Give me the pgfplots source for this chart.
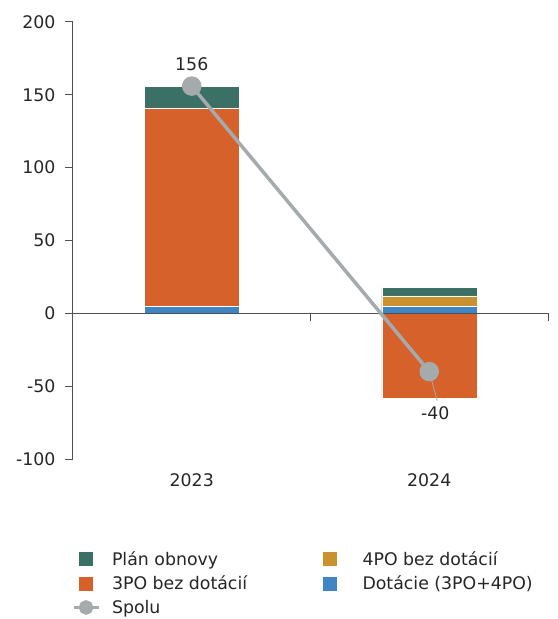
\documentclass[border=0pt]{standalone}
\usepackage{pgfplots}
\pgfplotsset{compat=1.18}
\usepackage{fontspec}
\setmainfont{DejaVu Sans}
\definecolor{cgreen}{HTML}{3A7066}
\definecolor{corange}{HTML}{D6612A}
\definecolor{cyellow}{HTML}{C9922E}
\definecolor{cblue}{HTML}{3F84C3}
\definecolor{cgrey}{HTML}{A5AAAD}
\definecolor{caxis}{HTML}{505050}
\begin{document}
\begin{tikzpicture}
\useasboundingbox (-73bp,-160bp) rectangle (485bp,459bp);
\begin{axis}[
  scale only axis, width=475bp, height=437bp,
  xmin=-0.5, xmax=1.5, ymin=-100, ymax=200,
  ytick={-100,-50,...,200},
  xtick={0,1}, xticklabels={2023,2024},
  axis y line*=left, axis x line*=bottom,
  x axis line style={draw=none},
  y axis line style={caxis, line width=1bp, -},
  ytick style={caxis, line width=1bp},
  xtick style={draw=none},
  tick align=outside, major tick length=8bp,
  font=\fontsize{17.4}{21}\selectfont,
  /pgf/number format/assume math mode=true,
  yticklabel style={xshift=-6bp, text=black!85},
  xticklabel style={yshift=-3bp, text=black!85},
  clip=false,
  legend columns=2,
  legend cell align=left,
  legend style={at={(axis description cs:-0.002,-0.207)}, anchor=north west, draw=none, inner sep=0pt, outer sep=0pt,
    font=\fontsize{17.4}{21}\selectfont, text=black!85,
    /tikz/column 1/.style={column sep=10bp},
    /tikz/column 2/.style={column sep=73bp},
    /tikz/column 3/.style={column sep=23bp},
    row sep=5bp},
  bars/.style={ybar, bar width=95bp, bar shift=0pt, draw=white, line width=0.4bp,
    legend image code/.code={\fill[##1] (0bp,-7.5bp) rectangle (15bp,7.5bp);}},
]
\addplot[bars, fill=cgreen] coordinates {(0,156) (1,18)};
\addlegendentry{Plán obnovy}
\addplot[bars, fill=cyellow] coordinates {(0,0) (1,12)};
\addlegendentry{4PO bez dotácií}
\addplot[bars, fill=corange] coordinates {(0,141) (1,-58)};
\addlegendentry{3PO bez dotácií}
\addplot[bars, fill=cblue] coordinates {(0,5) (1,5)};
\addlegendentry{Dotácie (3PO+4PO)}
\addplot[caxis, line width=1bp, forget plot] coordinates {(-0.5,0) (1.5,0)};
\addplot[cgrey, line width=3.5bp, mark=*, mark size=8bp, mark options={fill=cgrey, draw=none},
  legend image code/.code={\draw[cgrey, line width=3bp] (-5bp,0) -- (20bp,0); \fill[cgrey] (7.5bp,0) circle (5.5bp);}]
  coordinates {(0,156) (1,-40)};
\addlegendentry{Spolu}
\draw[caxis, line width=1bp] (axis cs:0.5,0) -- ++(0bp,-8bp);
\draw[caxis, line width=1bp] (axis cs:1.5,0) -- ++(0bp,-8bp);
\draw[cgrey, line width=0.8bp] (axis cs:1,-40) -- ++(8bp,-29bp);
\node[text=black!85] at (axis cs:0,156) [yshift=22bp] {156};
\node[text=black!85] at (axis cs:1,-40) [xshift=6bp, yshift=-42bp] {-40};
\end{axis}
\end{tikzpicture}
\end{document}
